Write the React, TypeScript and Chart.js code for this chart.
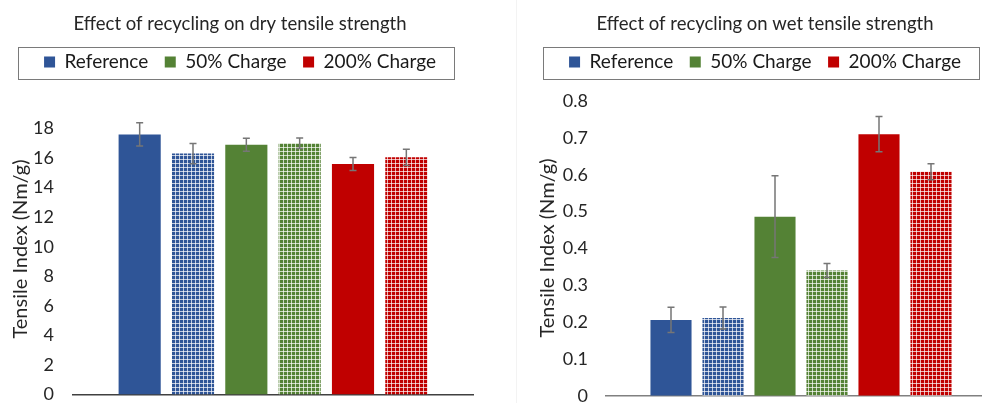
import { useEffect, useRef } from 'react';
import { Chart, registerables } from 'chart.js';

Chart.register(...registerables);

// Six handsheet samples: each furnish measured fresh and after recycling.
const SAMPLES = [
  'Reference',
  'Reference, recycled',
  '50% Charge',
  '50% Charge, recycled',
  '200% Charge',
  '200% Charge, recycled',
];
const SAMPLE_SERIES = [0, 0, 1, 1, 2, 2];
const SAMPLE_RECYCLED = [false, true, false, true, false, true];

const SERIES = ['Reference', '50% Charge', '200% Charge'];
const SERIES_COLORS = ['#2F5597', '#548235', '#C00000'];

// Dry tensile index (Nm/g) with standard deviation
const DRY_TENSILE = [17.6, 16.3, 16.9, 17.0, 15.6, 16.05];
const DRY_ERROR = [0.79, 0.68, 0.44, 0.36, 0.44, 0.55];
const DRY_TICKS = [0, 2, 4, 6, 8, 10, 12, 14, 16, 18];

// Wet tensile index (Nm/g) with standard deviation
const WET_TENSILE = [0.206, 0.211, 0.486, 0.34, 0.71, 0.608];
const WET_ERROR = [0.034, 0.03, 0.111, 0.019, 0.048, 0.022];
const WET_TICKS = [0, 0.1, 0.2, 0.3, 0.4, 0.5, 0.6, 0.7, 0.8];

const FONT = "Lato, 'Open Sans', sans-serif";
const TEXT_COLOR = '#262626';
const HEIGHT = 403;

type PanelSpec = {
  title: string;
  values: number[];
  errors: number[];
  ticks: number[];
  left: number;
  width: number;
  yAxisWidth: number;
  rightGutter: number;
  plotGap: number;
  bottomPad: number;
  tickPad: number;
  axisTitleX: number;
  axisTitleY: number;
  baselineColor: string;
};

// Recycled samples get a fine grid fill in the series colour.
function gridPattern(color: string): CanvasPattern | string {
  const tile = document.createElement('canvas');
  tile.width = 4;
  tile.height = 4;
  const g = tile.getContext('2d');
  if (!g) return color;
  g.fillStyle = color;
  g.fillRect(0, 0, 4, 4);
  g.fillStyle = 'rgba(255,255,255,0.7)';
  g.fillRect(3, 0, 1, 4);
  g.fillRect(0, 3, 4, 1);
  return g.createPattern(tile, 'repeat') || color;
}

// Symmetric error bars drawn from each dataset's `errors` list.
const errorBars = {
  id: 'errorBars',
  afterDatasetsDraw(chart: any, _args: any, opts: any) {
    const { ctx } = chart;
    const y = chart.scales.y;
    ctx.save();
    ctx.strokeStyle = opts.color;
    ctx.lineWidth = opts.lineWidth;
    chart.data.datasets.forEach((ds: any, di: number) => {
      const meta = chart.getDatasetMeta(di);
      meta.data.forEach((bar: any, i: number) => {
        const v = ds.data[i].y;
        const e = ds.errors[i];
        const top = y.getPixelForValue(v + e);
        const bottom = y.getPixelForValue(v - e);
        const x = bar.x;
        ctx.beginPath();
        ctx.moveTo(x, top);
        ctx.lineTo(x, bottom);
        ctx.moveTo(x - opts.cap, top);
        ctx.lineTo(x + opts.cap, top);
        ctx.moveTo(x - opts.cap, bottom);
        ctx.lineTo(x + opts.cap, bottom);
        ctx.stroke();
      });
    });
    ctx.restore();
  },
};

// Thin frame around the legend row.
const legendFrame = {
  id: 'legendFrame',
  afterDraw(chart: any, _args: any, opts: any) {
    const boxes = chart.legend && chart.legend.legendHitBoxes;
    if (!boxes || !boxes.length) return;
    const first = boxes[0];
    const last = boxes[boxes.length - 1];
    const left = Math.round(first.left - opts.padLeft) + 0.5;
    const right = Math.round(last.left + last.width + opts.padRight) + 0.5;
    const top = Math.round(first.top - opts.padTop) + 0.5;
    const bottom = Math.round(first.top + first.height + opts.padBottom) + 0.5;
    const { ctx } = chart;
    ctx.save();
    ctx.strokeStyle = opts.color;
    ctx.lineWidth = 1;
    ctx.strokeRect(left, top, right - left, bottom - top);
    ctx.restore();
  },
};

// Rotated value-axis title.
const axisTitle = {
  id: 'axisTitle',
  afterDraw(chart: any, _args: any, opts: any) {
    const { ctx } = chart;
    ctx.save();
    ctx.translate(opts.x, opts.y);
    ctx.rotate(-Math.PI / 2);
    ctx.font = `${opts.size}px ${FONT}`;
    ctx.fillStyle = TEXT_COLOR;
    ctx.textAlign = 'center';
    ctx.textBaseline = 'middle';
    ctx.fillText(opts.text, 0, 0);
    ctx.restore();
  },
};

function buildConfig(p: PanelSpec): any {
  const datasets = SERIES.map((name, s) => {
    const idx = SAMPLES.map((_, i) => i).filter((i) => SAMPLE_SERIES[i] === s);
    return {
      label: name,
      data: idx.map((i) => ({ x: i, y: p.values[i] })),
      errors: idx.map((i) => p.errors[i]),
      backgroundColor: idx.map((i) =>
        SAMPLE_RECYCLED[i] ? gridPattern(SERIES_COLORS[s]) : SERIES_COLORS[s]
      ),
      borderWidth: 0,
      grouped: false,
      categoryPercentage: 1,
      barPercentage: 0.79,
      xAxisID: 'x',
      yAxisID: 'y',
    };
  });

  return {
    type: 'bar',
    data: { datasets },
    options: {
      responsive: false,
      animation: false,
      layout: { padding: { left: 0, right: 0, top: 0, bottom: p.bottomPad } },
      scales: {
        x: {
          type: 'linear',
          min: -1.25,
          max: SAMPLES.length + 0.25,
          offset: false,
          afterBuildTicks: (s: any) => {
            s.ticks = SAMPLES.map((_, i) => ({ value: i }));
          },
          ticks: { display: false },
          grid: { display: false, drawTicks: false },
          border: { display: true, color: p.baselineColor, width: 1.5 },
        },
        y: {
          type: 'linear',
          position: 'left',
          min: p.ticks[0],
          max: p.ticks[p.ticks.length - 1],
          afterBuildTicks: (s: any) => {
            s.ticks = p.ticks.map((v) => ({ value: v }));
          },
          afterFit: (s: any) => {
            s.width = p.yAxisWidth;
          },
          ticks: {
            callback: (v: number) => String(v),
            font: { family: FONT, size: 18, lineHeight: 0.8 },
            color: TEXT_COLOR,
            padding: 0,
          },
          // tick marks stay hidden; their length only sets the label gap
          grid: { display: false, drawTicks: true, tickLength: p.tickPad },
          border: { display: false },
        },
        gutter: {
          type: 'linear',
          position: 'right',
          min: 0,
          max: 1,
          afterFit: (s: any) => {
            s.width = p.rightGutter;
          },
          ticks: { display: false },
          grid: { display: false, drawTicks: false },
          border: { display: false },
        },
      },
      plugins: {
        tooltip: { enabled: false },
        title: {
          display: true,
          text: p.title,
          color: TEXT_COLOR,
          font: { family: FONT, size: 18.5, weight: 'normal', lineHeight: 1.2 },
          padding: { top: 12.5, bottom: 1.3 },
        },
        subtitle: {
          display: true,
          text: '',
          position: 'top',
          weight: 500,
          font: { size: 1, lineHeight: 1 },
          padding: { top: p.plotGap - 1, bottom: 0 },
        },
        legend: {
          display: true,
          position: 'top',
          labels: {
            boxWidth: 11,
            boxHeight: 11,
            padding: 16.5,
            color: '#1a1a1a',
            font: { family: FONT, size: 19 },
            generateLabels: () =>
              SERIES.map((name, i) => ({
                text: name,
                fillStyle: SERIES_COLORS[i],
                strokeStyle: SERIES_COLORS[i],
                lineWidth: 0,
                hidden: false,
                datasetIndex: i,
                fontColor: '#1a1a1a',
              })),
          },
        },
        legendFrame: {
          color: '#7a7a7a',
          padLeft: 26,
          padRight: 18,
          padTop: 5.5,
          padBottom: 7.5,
        },
        errorBars: { color: '#767676', lineWidth: 1.5, cap: 3.5 },
        axisTitle: {
          text: 'Tensile Index (Nm/g)',
          x: p.axisTitleX,
          y: p.axisTitleY,
          size: 20,
        },
      },
    },
    plugins: [legendFrame, errorBars, axisTitle],
  };
}

function Panel({ spec }: { spec: PanelSpec }) {
  const ref = useRef<HTMLCanvasElement>(null);
  useEffect(() => {
    if (!ref.current) return;
    const chart = new Chart(ref.current, buildConfig(spec));
    return () => chart.destroy();
  }, [spec]);
  return (
    <canvas
      ref={ref}
      width={spec.width}
      height={HEIGHT}
      style={{ position: 'absolute', left: spec.left, top: 0, display: 'block' }}
    />
  );
}

const DRY_PANEL: PanelSpec = {
  title: 'Effect of recycling on dry tensile strength',
  values: DRY_TENSILE,
  errors: DRY_ERROR,
  ticks: DRY_TICKS,
  left: 0,
  width: 480,
  yAxisWidth: 73,
  rightGutter: 7,
  plotGap: 47,
  bottomPad: 8.5,
  tickPad: 19,
  axisTitleX: 21,
  axisTitleY: 249,
  baselineColor: '#404040',
};

const WET_PANEL: PanelSpec = {
  title: 'Effect of recycling on wet tensile strength',
  values: WET_TENSILE,
  errors: WET_ERROR,
  ticks: WET_TICKS,
  left: 517,
  width: 496,
  yAxisWidth: 89,
  rightGutter: 17,
  plotGap: 19.5,
  bottomPad: 7,
  tickPad: 18,
  axisTitleX: 31,
  axisTitleY: 248,
  baselineColor: '#808080',
};

export default function App() {
  return (
    <div
      style={{
        position: 'fixed',
        left: 0,
        top: 0,
        width: 982,
        height: HEIGHT,
        overflow: 'hidden',
        background: '#ffffff',
      }}
    >
      <Panel spec={DRY_PANEL} />
      <div
        style={{
          position: 'absolute',
          left: 516,
          top: 0,
          width: 1,
          height: HEIGHT,
          background: '#f3f3f3',
        }}
      />
      <Panel spec={WET_PANEL} />
    </div>
  );
}
